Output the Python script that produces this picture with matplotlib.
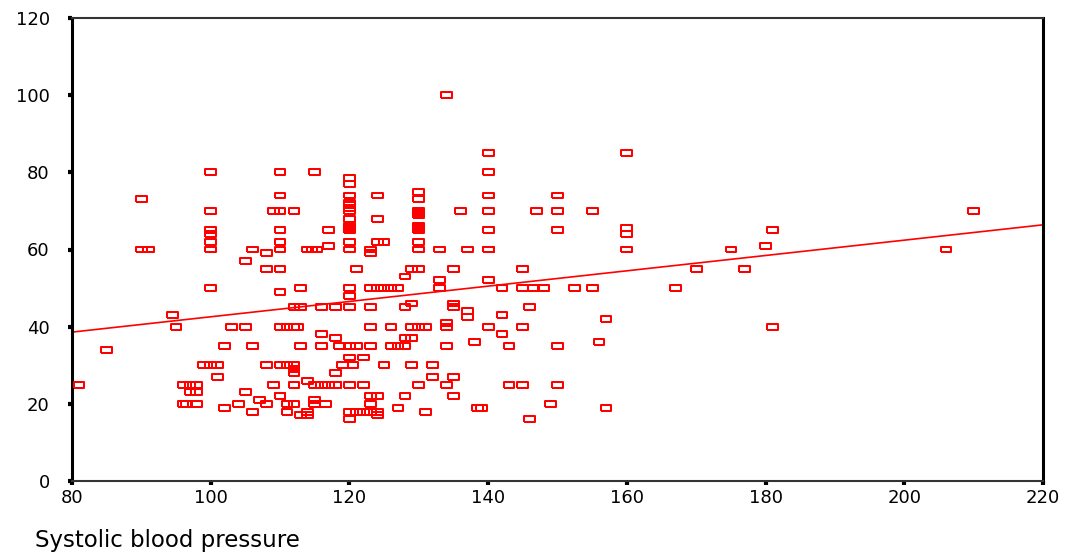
import matplotlib
matplotlib.use("Agg")
import matplotlib.pyplot as plt
import numpy as np

# Systolic blood pressure (x) and age (y)
sbp = [81, 85, 90, 90, 91, 94.5, 95,
       96, 97, 98, 97, 98, 96, 96.5, 98,
       99, 100, 101,
       100, 100, 100, 100, 100, 100, 100,
       101, 102, 102, 103, 104, 105, 105, 105, 106, 106, 106, 107, 108, 108, 108, 108, 109, 109,
       110, 110, 110, 110, 110, 110, 110, 110, 110,
       110, 111, 112, 112.5, 112, 113, 116, 113,
       114, 114.6, 115.3, 117, 117, 112, 115, 116, 116, 113, 118,
       110, 111, 112, 112, 112, 114, 112, 115, 116, 117, 118, 120,
       110, 115, 111, 112, 115, 116.5, 111, 113, 114, 114,
       118, 118, 118, 118.6, 119,
       120, 120, 120, 120, 120, 120, 120, 120, 120, 120, 120, 120, 120, 120, 120,
       120, 120, 120, 120.5, 120, 120,
       121, 121, 121, 122, 122, 122,
       123, 123, 123, 123, 123, 123, 123, 123, 123,
       124, 124, 124, 124, 124, 124, 124,
       125, 125, 125, 126, 126, 126, 127, 127, 127,
       128, 128, 128, 128, 128, 129, 129, 129, 129, 129,
       130, 130, 130, 130, 130, 130, 130, 130, 130, 130, 130, 130, 130,
       131, 131, 132, 132, 133, 133, 133,
       134, 134, 134, 134, 134,
       135, 135, 135, 135, 135, 136, 137, 137, 137, 138, 138.5,
       140, 140, 140, 140, 140, 140, 140, 140, 140, 139,
       142, 142, 142, 143, 143, 145, 145, 145, 145, 146, 146, 146.5, 147, 148, 149,
       150, 150, 150, 150, 150, 152.5, 155, 155, 156, 157, 157,
       160, 160, 160, 160, 167, 170, 175, 177, 180, 181, 181, 206, 210]

age = [25, 34, 73, 60, 60, 43, 40,
       25, 25, 25, 23, 23, 20, 20, 20,
       30, 30, 30,
       80, 70, 65, 64, 62, 60, 50,
       27, 19, 35, 40, 20, 23, 40, 57, 18, 35, 60, 21, 20, 30, 55, 59, 25, 70,
       80, 74, 70, 65, 62, 60, 55, 49, 22,
       40, 40, 40, 40, 45, 45, 45, 50,
       60, 60, 60, 61, 65, 70, 80, 38, 35, 35, 37,
       30, 30, 30, 29, 28, 26, 25, 25, 25, 25, 25, 25,
       22, 21, 20, 20, 20, 20, 18, 17, 17, 18,
       45, 28, 25, 35, 30,
       78.5, 77, 74, 72, 71.5, 70.8, 70, 68, 66, 65.6, 65, 62, 60, 50, 48,
       45, 35, 32, 30, 18, 16,
       55, 35, 18, 32, 25, 18,
       60, 59, 50, 45, 40, 35, 22, 20, 18,
       74, 68, 62, 50, 22, 18, 17,
       62, 50, 30, 50, 40, 35, 50, 35, 19,
       53, 45, 37, 35, 22, 55, 46, 40, 37, 30,
       75, 73, 70, 69.5, 69, 66, 65.6, 65, 62, 60, 55, 40, 25,
       40, 18, 30, 27, 60, 52, 50,
       100, 41, 40, 35, 25,
       55, 46, 45, 27, 22, 70, 60, 44, 42.5, 36, 19,
       85, 80, 74, 70, 65, 60, 60, 52, 40, 19,
       50, 43, 38, 35, 25, 55, 50, 40, 25, 45, 16, 50, 70, 50, 20,
       74, 70, 65, 35, 25, 50, 50, 70, 36, 42, 19,
       85, 65.5, 64, 60, 50, 55, 60, 55, 61, 65, 40, 60, 70]

# Regression line
fit_intercept = 22.7
fit_slope = 0.1986

x_ticks = [80, 100, 120, 140, 160, 180, 200, 220]
y_ticks = [0, 20, 40, 60, 80, 100, 120]
x_label = "Systolic blood pressure"

red = "#ff0000"
plt.rcParams['font.family'] = ['DejaVu Sans']

fig = plt.figure(figsize=(10.7, 5.6), dpi=100)
ax = fig.add_axes([72/1070, 1-481/560, (1043-72)/1070, (481-18)/560])

rect = [(-1, -0.55), (1, -0.55), (1, 0.55), (-1, 0.55), (-1, -0.55)]
ax.scatter(sbp, age, marker=rect, s=60, facecolors='none', edgecolors=red,
           linewidths=1.45, zorder=3)

xl = np.array([x_ticks[0], x_ticks[-1]])
ax.plot(xl, fit_intercept + fit_slope * xl, color=red, lw=1.2, zorder=2)

ax.set_xlim(x_ticks[0], x_ticks[-1])
ax.set_ylim(y_ticks[0], y_ticks[-1])
ax.set_xticks(x_ticks)
ax.set_yticks(y_ticks)
ax.tick_params(direction='out', length=3, width=3, labelsize=13, color='black', pad=3)
ax.tick_params(axis='y', pad=13)

for side in ['left', 'right']:
    ax.spines[side].set_linewidth(2.2)
    ax.spines[side].set_color('black')
for side in ['top', 'bottom']:
    ax.spines[side].set_linewidth(1.5)
    ax.spines[side].set_color('#333333')

fig.text(35/1070, 1-541/560, x_label, fontsize=16.5, ha='left', va='center')

fig.savefig("out.png", dpi=100)
